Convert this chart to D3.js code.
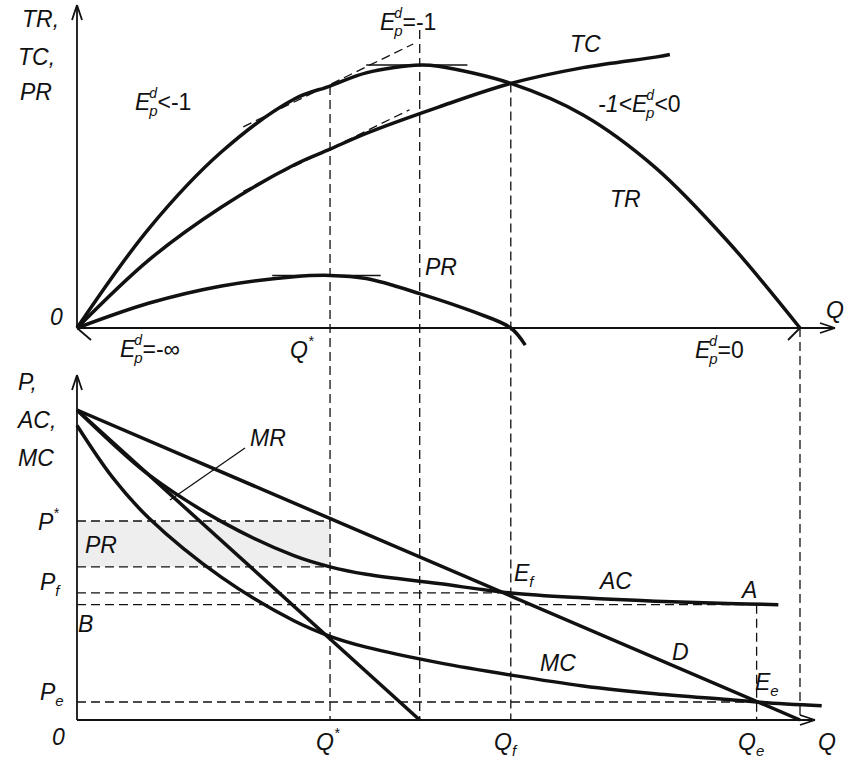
<html>
<head>
<script src="https://d3js.org/d3.v7.min.js"></script>
<style>
body{margin:0;background:#fff}
text{font-family:"Liberation Sans",Arial,sans-serif;font-style:italic;font-size:23px;fill:#111}
.curve{fill:none;stroke:#111;stroke-width:3.5}
.dash{fill:none;stroke:#111;stroke-width:1.3;stroke-dasharray:9,5}
.axis{stroke:#111;stroke-width:1.8;fill:none}
</style>
</head>
<body>
<svg id="all" width="865" height="768"></svg>
<script>
// quantities and values
const trData = [[0,0],[1,38],[2,67],[3,87],[3.5,92],[4,97],[4.75,100],[5,99.5],[6,93],[7,81],[8,61],[9,33],[10,0]];
const tcData = [[0,0],[1,26],[2,46],[3,62],[3.5,68],[4,74],[5,84],[6,93],[7,99],[8,103],[8.2,104]];
const prData = [[0,0],[1,9.5],[2,16],[3,19.5],[3.5,20],[4,18.8],[4.75,13],[5.5,6],[6,0],[6.2,-6.5]];
const demand = [[0,100],[10,0]];
const mrData = [[0,100],[4.74,0]];
const acData = [[0,100],[0.5,89],[1,79],[2,64],[3,53],[3.5,49.4],[4,47],[5,44],[6,41],[7,39.4],[8,38.3],[9,37.6],[9.7,37.2]];
const mcData = [[0,95],[0.5,78],[1,65],[2,46],[3,32],[3.5,27],[4,23.5],[5,18.5],[6,14.5],[7,11],[8,8.5],[9,6.6],[9.4,5.8],[10.3,4.6]];
const qStar = 3.5, qMid = 4.74, qF = 6, qE = 9.4, qMax = 10;
const pStar = 64.2, pLow = 49.4, pF = 41, pB = 37.2, pE = 5.8;
// tangent segments [q0,v0,q1,v1]
const tangTR = [2.3,76.5,4.65,108];
const tangTC = [2.3,52,4.6,83];
const tangTop = [4,100,5.4,100];
const tangPR = [2.7,20,4.2,20];

const svg = d3.select("svg#all");
const x = d3.scaleLinear().domain([0,10]).range([77,800]);
const yT = d3.scaleLinear().domain([0,100]).range([328,65]);
const yB = d3.scaleLinear().domain([0,100]).range([720,410]);

const lineT = d3.line().x(d=>x(d[0])).y(d=>yT(d[1])).curve(d3.curveCatmullRom);
const lineB = d3.line().x(d=>x(d[0])).y(d=>yB(d[1])).curve(d3.curveCatmullRom);

// shaded profit area
svg.append("rect").attr("x",x(0)).attr("y",yB(pStar)).attr("width",x(qStar)-x(0))
   .attr("height",yB(pLow)-yB(pStar)).attr("fill","#eeeeee");

// axes with arrows
const ax = svg.append("g");
function arrow(x1,y1,x2,y2){
  ax.append("line").attr("class","axis").attr("x1",x1).attr("y1",y1).attr("x2",x2).attr("y2",y2);
}
arrow(x(0),yT(0),x(0),5); arrow(x(0)-5,20,x(0),5); arrow(x(0)+5,20,x(0),5);
arrow(x(0),yT(0),835,yT(0)); arrow(820,yT(0)-5,835,yT(0)); arrow(820,yT(0)+5,835,yT(0));
arrow(x(0),yB(0),x(0),375); arrow(x(0)-5,390,x(0),375); arrow(x(0)+5,390,x(0),375);
arrow(x(0),yB(0),815,yB(0)); arrow(800,yB(0)-5,815,yB(0)); arrow(800,yB(0)+5,815,yB(0));
arrow(x(0),yT(0),x(0)+14,yT(0)+12); arrow(x(qMax),yT(0),x(qMax)-12,yT(0)+12);

// dashed guides
const g = svg.append("g");
function dash(x1,y1,x2,y2){g.append("line").attr("class","dash").attr("x1",x1).attr("y1",y1).attr("x2",x2).attr("y2",y2);}
dash(x(qStar),yT(92),x(qStar),yB(0));
dash(x(qMid),30,x(qMid),yB(0));
dash(x(qF),yT(93),x(qF),yB(0));
dash(x(qMax),yT(0),x(qMax),yB(0));
dash(x(qE),yB(pB),x(qE),yB(0));
dash(x(0),yB(pStar),x(qStar),yB(pStar));
dash(x(0),yB(pLow),x(qStar),yB(pLow));
dash(x(0),yB(pF),x(qF),yB(pF));
dash(x(0),yB(pB),x(qE),yB(pB));
dash(x(0),yB(pE),x(qE),yB(pE));
[tangTR,tangTC].forEach(t=>dash(x(t[0]),yT(t[1]),x(t[2]),yT(t[3])));
[tangTop,tangPR].forEach(t=>g.append("line").attr("stroke","#111").attr("stroke-width",1.5)
  .attr("x1",x(t[0])).attr("y1",yT(t[1])).attr("x2",x(t[2])).attr("y2",yT(t[3])));

// curves
[trData,tcData,prData].forEach(d=>svg.append("path").attr("class","curve").attr("d",lineT(d)));
[demand,mrData,acData,mcData].forEach(d=>svg.append("path").attr("class","curve").attr("d",lineB(d)));
// MR pointer
svg.append("line").attr("stroke","#111").attr("stroke-width",1.3)
  .attr("x1",170).attr("y1",500).attr("x2",245).attr("y2",448);

const labels = [
  ["TR,",22,27],["TC,",18,65],["PR",20,100],
  ["TC",570,52],["TR",610,207],["PR",425,275],["0",50,325],["Q",826,318],
  ["P,",18,390],["AC,",18,428],["MC",18,466],["MR",250,446],["PR",85,553],
  ["AC",600,589],["A",742,598],["D",672,660],["MC",540,671],["B",78,632],
  ["0",52,745],["Q",818,750]
];
const lg = svg.append("g");
labels.forEach(l=>lg.append("text").attr("x",l[1]).attr("y",l[2]).text(l[0]));
function rich(px,py,base,sub,sup,tail){
  const t = lg.append("text").attr("x",px).attr("y",py);
  t.append("tspan").text(base);
  if(sup) t.append("tspan").attr("font-size",14).attr("dy",-12).attr("dx",sub?-1:0).text(sup);
  if(sub) t.append("tspan").attr("font-size",15).attr("dy",sup?18:6).attr("dx",sup?-8:0).text(sub);
  if(tail!==undefined) t.append("tspan").attr("dy",sub?-6:(sup?12:0)).attr("font-style","normal").text(tail);
}
rich(135,110,"E","p","d","<-1");
rich(380,30,"E","p","d","=-1");
rich(598,112,"-1<E","p","d","<0");
rich(120,357,"E","p","d","=-∞");
rich(290,358,"Q",null,"*");
rich(695,358,"E","p","d","=0");
rich(38,530,"P",null,"*");
rich(40,590,"P","f");
rich(40,700,"P","e");
rich(514,581,"E","f");
rich(755,690,"E","e");
rich(316,750,"Q",null,"*");
rich(494,750,"Q","f");
rich(738,750,"Q","e");
</script>
</body>
</html>
